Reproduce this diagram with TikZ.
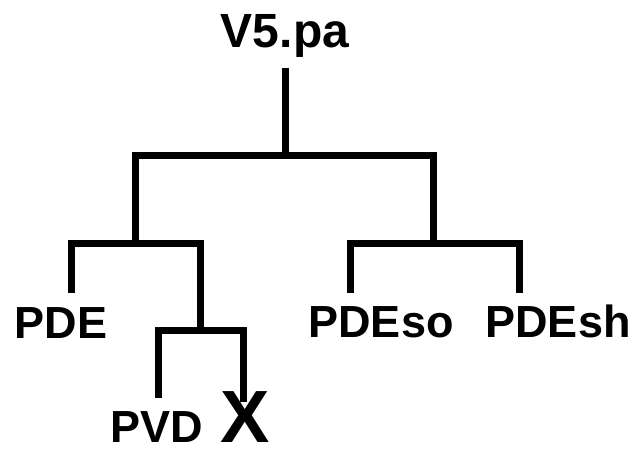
\documentclass[tikz,border=0pt]{standalone}
\usepackage{fontspec}
\setmainfont{Liberation Sans}
\begin{document}
\begin{tikzpicture}[x=1pt,y=-1pt,
  br/.style={line width=7pt, line join=miter, line cap=butt},
  lab/.style={font=\fontsize{45}{45}\selectfont\bfseries, inner sep=0pt, anchor=base},
  rootlab/.style={font=\fontsize{48}{48}\selectfont\bfseries, inner sep=0pt, anchor=base},
  biglab/.style={font=\fontsize{74}{74}\selectfont\bfseries, inner sep=0pt, anchor=base}]
\useasboundingbox (0,0) rectangle (643,453);
% labels
\node[rootlab] (root) at (285,47) {V5.pa};
\node[lab] (pde) at (61,338) {PDE};
\node[lab] (pdeso) at (381,337) {PDEso};
\node[lab] (pdesh) at (558,337) {PDEsh};
\node[lab] (pvd) at (157,442) {PVD};
\node[biglab] (x) at (245,442) {X};
% junctions and line ends
\coordinate (rt) at (285,68);
\coordinate (j0) at (285,155);
\coordinate (jl) at (135,243);
\coordinate (jr) at (433,243);
\coordinate (jlr) at (200,330);
\coordinate (pdeT) at (71,293);
\coordinate (pvdT) at (158,398);
\coordinate (xT) at (243,402);
\coordinate (soT) at (350,293);
\coordinate (shT) at (519,293);
% connectors
\draw[br] (rt) -- (j0);
\draw[br] (jl) |- (j0) -| (jr);
\draw[br] (pdeT) |- (jl) -| (jlr);
\draw[br] (pvdT) |- (jlr) -| (xT);
\draw[br] (soT) |- (jr) -| (shT);
\end{tikzpicture}
\end{document}
